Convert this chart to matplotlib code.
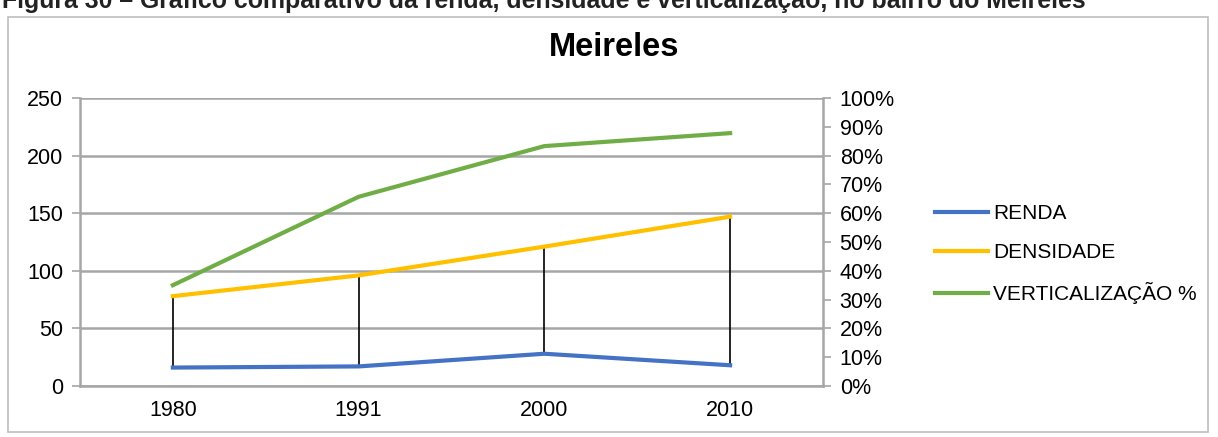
import numpy as np
import matplotlib
matplotlib.use("Agg")
import matplotlib.pyplot as plt
from matplotlib.patches import Rectangle
from matplotlib.ticker import PercentFormatter

plt.rcParams['font.family'] = ['Liberation Sans', 'DejaVu Sans']

# data
years = ['1980', '1991', '2000', '2010']
renda = [16, 17, 28, 18]
densidade = [78, 96, 121, 147]
verticalizacao = [35, 65.7, 83.3, 87.8]  # percent, right axis

blue = '#4472C4'
yellow = '#FFC000'
green = '#70AD47'
grid_grey = '#A6A6A6'

W, H = 1218, 437
fig = plt.figure(figsize=(W / 100, H / 100), dpi=100)

# outer chart border
fig.patches.append(Rectangle((8 / W, 1 - 432 / H), 1200 / W, 415 / H,
                             transform=fig.transFigure, fill=False,
                             edgecolor='#BFBFBF', linewidth=1.2))

# caption, cut off at the top of the picture as in the source
fig.text(2 / W, 1 - 8 / H,
         'Figura 30 – Gráfico comparativo da renda, densidade e verticalização, no bairro do Meireles',
         fontsize=17.9, fontweight='bold', va='baseline', ha='left', color='#222222')

ax = fig.add_axes([80 / W, 1 - 386 / H, 743 / W, 288 / H])
x = np.arange(len(years))

# high-low lines between the primary-axis series
lo = np.minimum(renda, densidade)
hi = np.maximum(renda, densidade)
ax.vlines(x, lo, hi, colors='black', linewidth=1.2, zorder=3)

l1, = ax.plot(x, renda, color=blue, linewidth=3, label='RENDA', zorder=4)
l2, = ax.plot(x, densidade, color=yellow, linewidth=3, label='DENSIDADE', zorder=4)

ax.set_xlim(-0.5, len(years) - 0.5)
ax.set_ylim(0, 250)
ax.set_yticks(np.arange(0, 251, 50))
ax.set_xticks(x)
ax.set_xticklabels(years)
ax.yaxis.grid(True, color=grid_grey, linewidth=1.8)
ax.set_axisbelow(True)
for s in ['top', 'right']:
    ax.spines[s].set_visible(False)
for s in ['left', 'bottom']:
    ax.spines[s].set_color(grid_grey)
    ax.spines[s].set_linewidth(1.8)
ax.tick_params(axis='y', length=6, color=grid_grey, width=1.2, labelsize=15.5, pad=6)
ax.tick_params(axis='x', length=0, labelsize=15.5, pad=10)

ax2 = ax.twinx()
l3, = ax2.plot(x, verticalizacao, color=green, linewidth=3, label='VERTICALIZAÇÃO %', zorder=4)
ax2.set_ylim(0, 100)
ax2.set_yticks(np.arange(0, 101, 10))
ax2.yaxis.set_major_formatter(PercentFormatter(decimals=0))
for s in ['top', 'left', 'bottom']:
    ax2.spines[s].set_visible(False)
ax2.spines['right'].set_color(grid_grey)
ax2.spines['right'].set_linewidth(1.8)
ax2.tick_params(axis='y', length=6, color=grid_grey, width=1.2, labelsize=15.5, pad=6)

fig.text(614 / W, 1 - 48 / H, 'Meireles', fontsize=23.5, fontweight='bold',
         ha='center', va='center')

fig.legend(handles=[l1, l2, l3], loc='center left',
           bbox_to_anchor=(925 / W, 1 - 254 / H), frameon=False, borderpad=0,
           fontsize=15, handlelength=2.5, handletextpad=0.28, labelspacing=0.95)

fig.savefig('out.png', dpi=100)
